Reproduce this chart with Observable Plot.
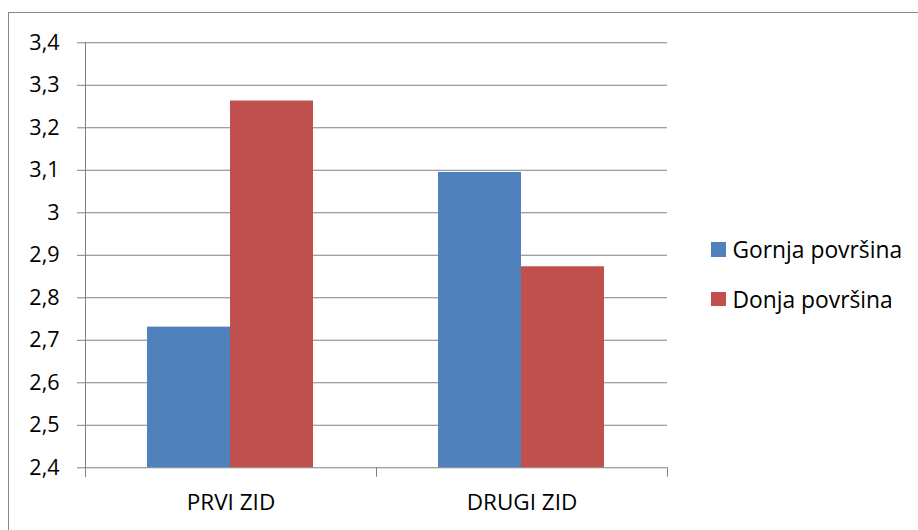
<!DOCTYPE html>
<html><head><meta charset="utf-8">
<script src="https://cdn.jsdelivr.net/npm/d3@7"></script>
<script src="https://cdn.jsdelivr.net/npm/@observablehq/plot@0.6"></script>
<style>
body{margin:0;background:#fff;}
#wrap{position:relative;width:918px;height:530px;overflow:hidden;font-family:"Open Sans",sans-serif;color:#000;}
#frame{position:absolute;left:7.5px;top:11.5px;width:1000px;height:1000px;border-left:1px solid #868686;border-top:1px solid #868686;box-sizing:border-box;}
#chart{position:absolute;left:0;top:0;}
.item{position:absolute;left:711px;height:30px;display:flex;align-items:center;font-size:22.8px;white-space:nowrap;}
.sw{width:14.5px;height:14.5px;margin-right:7px;flex:none;}
</style></head>
<body><div id="wrap"><div id="frame"></div><div id="chart"></div><div id="legend"></div></div>
<script>
const categories = ["PRVI ZID", "DRUGI ZID"];
const series = ["Gornja površina", "Donja površina"];
const gornja = [2.731, 3.095];
const donja = [3.263, 2.873];
const yTicks = [2.4, 2.5, 2.6, 2.7, 2.8, 2.9, 3.0, 3.1, 3.2, 3.3, 3.4];
const colors = ["#4F81BD", "#C0504D"];

const data = categories.flatMap((c, i) => [
  {cat: c, s: series[0], v: gornja[i]},
  {cat: c, s: series[1], v: donja[i]}
]);

const W = 918, H = 530, mL = 85, mR = 250.3, mT = 42.3, mB = 62.7;
const plotH = H - mT - mB;
const grid = "#808080";
const fmt = d => String(Math.round(d * 10) / 10).replace(".", ",");

const chart = Plot.plot({
  width: W, height: H,
  marginLeft: mL, marginRight: mR, marginTop: mT, marginBottom: mB,
  style: {fontFamily: "'Open Sans', sans-serif", color: "#000", background: "transparent"},
  fx: {domain: categories, padding: 0, axis: null},
  x: {domain: series, paddingInner: 0, paddingOuter: 0.75, axis: null},
  y: {domain: [yTicks[0], yTicks[yTicks.length - 1]], axis: null},
  color: {domain: series, range: colors},
  marks: [
    Plot.ruleY(yTicks, {stroke: grid, strokeWidth: 1.1}),
    Plot.barY(data, {fx: "cat", x: "s", y1: yTicks[0], y2: "v", fill: "s"}),
    Plot.axisY({ticks: yTicks, tickSize: 8, tickPadding: 18, fontSize: 21.5, stroke: grid, fill: "#000", tickFormat: fmt, label: null}),
    Plot.frame({anchor: "left", facetAnchor: "left", stroke: grid, insetBottom: -8.5}),
    Plot.frame({anchor: "left", stroke: grid, insetTop: plotH, insetBottom: -8.5}),
    Plot.frame({anchor: "right", facetAnchor: "right", stroke: grid, insetTop: plotH, insetBottom: -8.5}),
    Plot.text(categories, {fx: d => d, text: d => d, frameAnchor: "bottom", lineAnchor: "bottom", dy: 42, fontSize: 22.5, fill: "#000"})
  ]
});
document.getElementById("chart").appendChild(chart);

const legend = document.getElementById("legend");
const centers = [249.5, 299];
series.forEach((s, i) => {
  const it = document.createElement("div");
  it.className = "item";
  it.style.top = (centers[i] - 15) + "px";
  const sw = document.createElement("div");
  sw.className = "sw";
  sw.style.background = colors[i];
  const tx = document.createElement("span");
  tx.textContent = s;
  it.appendChild(sw); it.appendChild(tx);
  legend.appendChild(it);
});
</script>
</body></html>
